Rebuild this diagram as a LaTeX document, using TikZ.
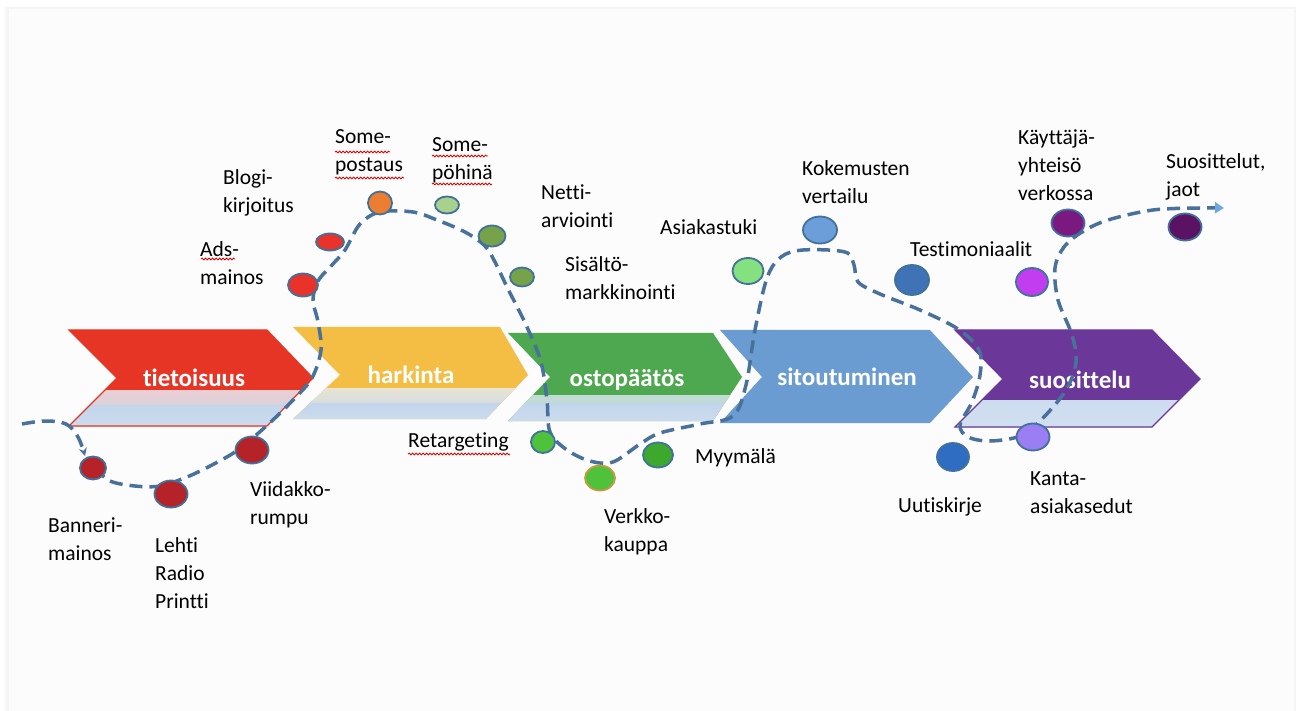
\documentclass[tikz,border=0pt]{standalone}
\usepackage{fontspec}
\setmainfont{Carlito}[Ligatures={NoCommon, NoContextual}]
\usepackage{tikz}
\usetikzlibrary{positioning, arrows, arrows.meta, shapes.geometric, decorations.pathmorphing}

\definecolor{redc}{HTML}{E63425}
\definecolor{yellowc}{HTML}{F4BD44}
\definecolor{greenc}{HTML}{4DA84F}
\definecolor{bluec}{HTML}{6A9BD1}
\definecolor{purplec}{HTML}{6B389A}
\definecolor{lowblue}{HTML}{C2D5EB}
\definecolor{pathc}{HTML}{48719B}
\definecolor{tipc}{HTML}{6FA8DC}
\definecolor{outl}{HTML}{41719C}
% dot colours
\definecolor{darkred}{HTML}{B52228}
\definecolor{brightred}{HTML}{E8322A}
\definecolor{orangec}{HTML}{ED7D31}
\definecolor{palegreen}{HTML}{A9D18E}
\definecolor{olivegreen}{HTML}{76A24A}
\definecolor{limegreen}{HTML}{4EC23B}
\definecolor{shopgreen}{HTML}{3DA82E}
\definecolor{tanc}{HTML}{C79A44}
\definecolor{mintc}{HTML}{83E27F}
\definecolor{skyc}{HTML}{6C9FD9}
\definecolor{steelc}{HTML}{3F73B5}
\definecolor{royalc}{HTML}{2E6DC1}
\definecolor{lavenderc}{HTML}{9B7DF4}
\definecolor{magentac}{HTML}{C33DF0}
\definecolor{plumc}{HTML}{7A1A80}
\definecolor{grapec}{HTML}{5A1262}

\begin{document}
\begin{tikzpicture}[x=1pt, y=-1pt,
  dot/.style={ellipse, draw=outl, line width=1.8, inner sep=0},
  lbl/.style={anchor=west, align=left, inner sep=0, font=\fontsize{21.5}{28}\selectfont},
  phase/.style={text=white, inner sep=0, font=\bfseries\fontsize{25}{30}\selectfont},
  journey/.style={draw=pathc, line width=3.5, dash pattern=on 13pt off 7pt},
  typo/.style={draw=red!85!black, line width=0.8, decorate, decoration={snake, amplitude=0.9, segment length=3.5}}]
\useasboundingbox (0,0) rectangle (1296,711);
\fill[black!4] (5,7) rectangle (1296,711);
\fill[black!1] (9,9) rectangle (1294,711);

% phase arrows
\path[fill=redc, draw=redc, line width=1.2, path picture={
    \shade[top color=redc, bottom color=lowblue, middle color=redc!25!white] (60,390) rectangle (330,405);
    \shade[top color=lowblue, bottom color=lowblue!80!white] (60,405) rectangle (330,430);}]
  (69,330) -- (267,330) -- (313,378) -- (267,426) -- (69,426) -- (117,378) -- cycle;
\path[fill=yellowc, path picture={
    \shade[top color=yellowc, bottom color=lowblue, middle color=yellowc!30!white] (285,388) rectangle (540,403);
    \shade[top color=lowblue, bottom color=lowblue!80!white] (285,403) rectangle (540,425);}]
  (293,327) -- (500,327) -- (528,375) -- (486,419) -- (293,419) -- (340,375) -- cycle;
\path[fill=greenc, path picture={
    \shade[top color=greenc, bottom color=lowblue, middle color=greenc!35!white] (500,395) rectangle (750,403);
    \shade[top color=lowblue, bottom color=lowblue!80!white] (500,403) rectangle (750,425);}]
  (508,333) -- (713,333) -- (742,377) -- (713,421) -- (508,421) -- (550,377) -- cycle;
\path[fill=bluec]
  (720,330) -- (930,330) -- (973,377) -- (930,423) -- (720,423) -- (762,377) -- cycle;
\path[fill=purplec, draw=purplec, line width=1.2, path picture={
    \shade[top color=lowblue, bottom color=lowblue!75!white] (950,400) rectangle (1210,430);}]
  (955,330) -- (1152,330) -- (1200,379) -- (1152,427) -- (955,427) -- (1003,379) -- cycle;

\node[phase] (tietoisuus) at (194,378) {tietoisuus};
\node[phase] (harkinta) at (411,375) {harkinta};
\node[phase] (ostopaatos) at (627,380) {ostopäätös};
\node[phase] (sitoutuminen) at (847,377) {sitoutuminen};
\node[phase] (suosittelu) at (1080,380) {suosittelu};

% customer path
\draw[journey, -{Stealth[length=8, width=8]}] plot[smooth, tension=0.6] coordinates {(22,424) (45,421) (66,424) (78,437) (85,456)};
\draw[journey, -{Triangle[length=9, width=11, color=tipc]}] plot[smooth, tension=0.55] coordinates {
  (95,468) (110,481) (135,486) (160,486) (187,477) (212,465) (235,452) (255,436)
  (275,418) (295,398) (312,378) (321,350) (318,322) (313,300) (318,281) (332,265)
  (345,250) (360,224) (380,212) (413,212) (437,220) (465,232) (485,246) (496,264)
  (507,287) (527,327) (541,362) (547,400) (550,432) (567,450) (590,461) (613,462)
  (640,444) (660,433) (700,424) (733,416) (746,385) (755,330) (767,278) (781,257)
  (803,250) (845,252) (854,265) (858,282) (880,294) (920,310) (958,329) (979,350)
  (980,375) (972,402) (960,425) (968,437) (990,441) (1020,436) (1042,419) (1066,390)
  (1076,362) (1072,335) (1058,300) (1055,268) (1064,247) (1082,232) (1108,220)
  (1153,210) (1200,208) (1224,208)};

% touch points
\node[dot, fill=darkred, minimum width=26, minimum height=23] (banneri) at (93,468) {};
\node[dot, fill=darkred, minimum width=33, minimum height=27] (lehti) at (171,494) {};
\node[dot, fill=darkred, minimum width=33, minimum height=27] (viidakko) at (252,450) {};
\node[dot, fill=brightred, minimum width=30, minimum height=23] (ads) at (303,285) {};
\node[dot, fill=brightred, minimum width=28, minimum height=17] (blogi) at (330,242) {};
\node[dot, fill=orangec, minimum width=24, minimum height=23] (postaus) at (380,203) {};
\node[dot, fill=palegreen, minimum width=24, minimum height=17] (pohina) at (447,205) {};
\node[dot, fill=olivegreen, minimum width=27, minimum height=21] (netti) at (492,236) {};
\node[dot, fill=olivegreen, minimum width=24, minimum height=19] (sisalto) at (522,277) {};
\node[dot, fill=limegreen, minimum width=24, minimum height=22] (retarget) at (543,442) {};
\node[dot, fill=limegreen, draw=tanc, minimum width=30, minimum height=25] (verkko) at (600,478) {};
\node[dot, fill=shopgreen, minimum width=30, minimum height=25] (myymala) at (658,455) {};
\node[dot, fill=mintc, minimum width=31, minimum height=26] (asiakastuki) at (748,271) {};
\node[dot, fill=skyc, minimum width=34, minimum height=27] (kokemus) at (820,230) {};
\node[dot, fill=steelc, minimum width=34, minimum height=30] (testimon) at (912,280) {};
\node[dot, fill=royalc, minimum width=32, minimum height=28] (uutis) at (953,457) {};
\node[dot, fill=lavenderc, minimum width=33, minimum height=27] (kanta) at (1033,437) {};
\node[dot, fill=magentac, minimum width=32, minimum height=28] (testimonb) at (1032,282) {};
\node[dot, fill=plumc, minimum width=33, minimum height=27] (kayttaja) at (1068,223) {};
\node[dot, fill=grapec, minimum width=33, minimum height=27] (suosittelut) at (1185,227) {};

% labels
\node[lbl] (banneri-txt) at (48,539.5) {Banneri-\\mainos};
\node[lbl] (lehti-txt) at (155,573.5) {Lehti\\Radio\\Printti};
\node[lbl] (viidakko-txt) at (250,504.5) {Viidakko-\\rumpu};
\node[lbl] (blogi-txt) at (223,192.5) {Blogi-\\kirjoitus};
\node[lbl] (ads-txt) at (200,263) {Ads-\\mainos};
\node[lbl] (postaus-txt) at (335,152) {Some-\\postaus};
\node[lbl] (pohina-txt) at (432,160) {Some-\\pöhinä};
\node[lbl] (netti-txt) at (541,206) {Netti-\\arviointi};
\node[lbl] (sisalto-txt) at (565,278) {Sisältö-\\markkinointi};
\node[lbl] (asiakastuki-txt) at (660,227) {Asiakastuki};
\node[lbl] (kokemus-txt) at (802,182) {Kokemusten\\vertailu};
\node[lbl] (testimon-txt) at (910,249) {Testimoniaalit};
\node[lbl] (kayttaja-txt) at (1018,165) {Käyttäjä-\\yhteisö\\verkossa};
\node[lbl] (suosittelut-txt) at (1166,176.5) {Suosittelut,\\jaot};
\node[lbl] (retarget-txt) at (408,442) {Retargeting};
\node[lbl] (myymala-txt) at (695,458) {Myymälä};
\node[lbl] (verkko-txt) at (604,532) {Verkko-\\kauppa};
\node[lbl] (uutis-txt) at (898,507) {Uutiskirje};
\node[lbl] (kanta-txt) at (1030,493) {Kanta-\\asiakasedut};

% spell check marks
\draw[typo] (335,152) -- (390,152);
\draw[typo] (335,178) -- (404,178);
\draw[typo] (432,156) -- (488,156);
\draw[typo] (432,184) -- (492,184);
\draw[typo] (201,259) -- (235,259);
\draw[typo] (408,454) -- (510,454);
\end{tikzpicture}
\end{document}
